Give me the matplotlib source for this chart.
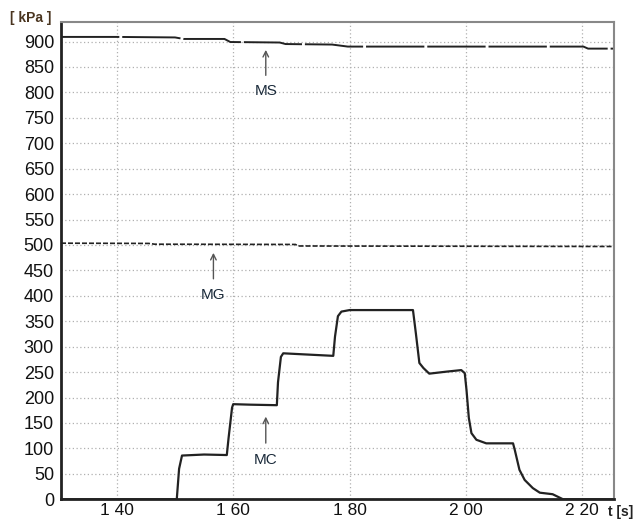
import matplotlib
matplotlib.use('Agg')
import matplotlib.pyplot as plt

plt.rcParams['font.family'] = ['Liberation Sans', 'DejaVu Sans']

# time axis [s] and pressures [kPa]
t_ms = [130.4, 140, 150, 151.5, 158.5, 159.5, 168, 169, 177, 179.7, 220.2, 221, 225.5]
p_ms = [909, 909, 908, 905, 905, 899, 898, 895, 894, 890, 890, 886, 886]

t_mg = [130.4, 145.5, 146.5, 170.7, 171.2, 225.5]
p_mg = [503.5, 503, 501.5, 501, 498, 497]

t_mc = [130.4, 150.3, 150.7, 151.2, 155, 158.9, 159.2, 159.8, 160.0, 163, 167.5,
        167.7, 168.2, 168.6, 172, 177.2, 177.5, 178.0, 178.6, 180, 185, 190.9,
        191.4, 192.0, 192.7, 193.7, 196.7, 199.2, 199.8, 200.1, 200.5, 200.95,
        201.8, 203.5, 206, 208.1, 208.4, 209.2, 210.1, 211.5, 212.7, 214.9,
        216.7, 225.5]
p_mc = [0, 0, 60, 86, 88, 87, 120, 180, 187, 186, 185,
        230, 280, 287, 285, 282, 320, 360, 369, 372, 372, 372,
        326, 268, 258, 247, 251, 254, 248, 215, 160, 130,
        117, 110, 110, 110, 97, 58, 38, 22, 13, 10,
        0, 0]

x_ticks = [140, 160, 180, 200, 220]
x_tick_labels = ['1 40', '1 60', '1 80', '2 00', '2 20']
y_ticks = list(range(0, 901, 50))

# arrow annotations: label, x, arrow tip y, arrow tail y, label y
notes = [('MS', 165.6, 889, 828, 802),
         ('MG', 156.6, 490, 428, 402),
         ('MC', 165.6, 168, 105, 77)]

fig = plt.figure(figsize = (6.4, 5.22), dpi = 100)
ax = fig.add_axes([0.0953, 0.0435, 0.8645, 0.915])

line_color = '#222222'
ax.plot(t_ms, p_ms, color = line_color, linewidth = 1.4, linestyle = (0, (30, 1.5)))
ax.plot(t_mg, p_mg, color = line_color, linewidth = 1.2, linestyle = (0, (3, 1.2)))
ax.plot(t_mc, p_mc, color = line_color, linewidth = 1.6)

for label, x, tip, tail, ly in notes:
    ax.annotate('', xy = (x, tip), xytext = (x, tail),
                arrowprops = dict(arrowstyle = '->', color = '#555555', linewidth = 1.0))
    ax.text(x, ly, label, ha = 'center', va = 'center', fontsize = 11, color = '#1a2a3a')

ax.set_xlim(130.4, 225.5)
ax.set_ylim(0, 939)
ax.set_xticks(x_ticks)
ax.set_xticklabels(x_tick_labels)
ax.set_yticks(y_ticks)

ax.grid(True, color = '#b0b0b0', linestyle = (0, (1, 2)), linewidth = 0.9)
ax.set_axisbelow(True)
ax.tick_params(axis = 'y', length = 0, labelsize = 13, colors = '#111111', pad = 5)
ax.tick_params(axis = 'x', length = 0, labelsize = 12.5, colors = '#111111', pad = 2.5)

for side in ['left', 'bottom']:
    ax.spines[side].set_color('#222222')
    ax.spines[side].set_linewidth(2)
for side in ['top', 'right']:
    ax.spines[side].set_color('#888888')
    ax.spines[side].set_linewidth(1.5)

fig.text(31/640, 1 - 18/522, '[ kPa ]', ha = 'center', va = 'center',
         fontsize = 10, fontweight = 'bold', color = '#4a3520')
fig.text(621/640, 1 - 512/522, 't [s]', ha = 'center', va = 'center',
         fontsize = 10, fontweight = 'bold', color = '#222222')

fig.savefig('out.png', dpi = 100)
